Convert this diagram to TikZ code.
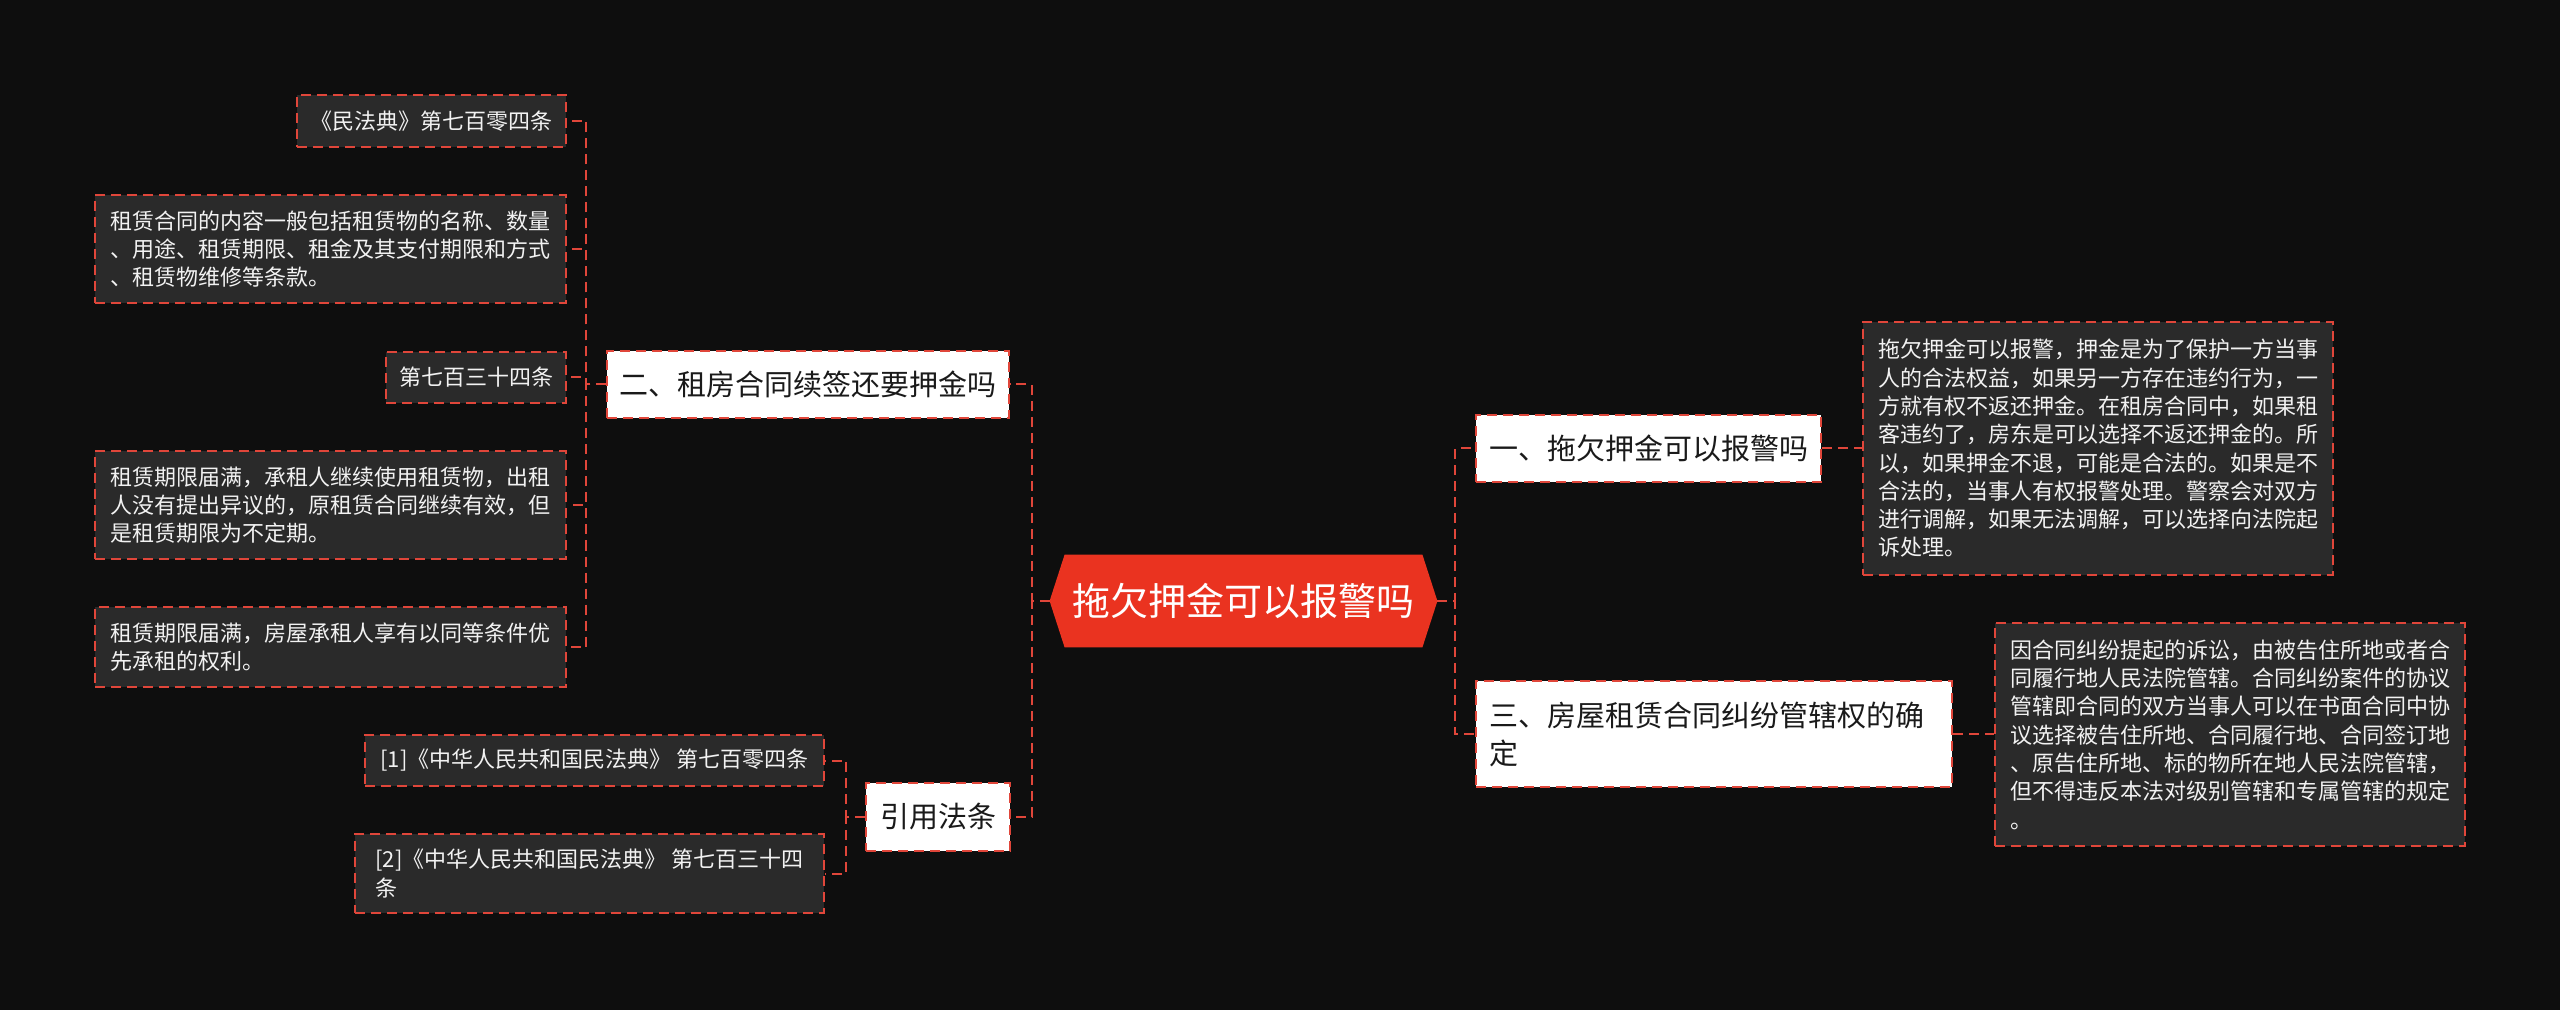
\documentclass[tikz,border=0pt]{standalone}
\usepackage{fontspec}
\setmainfont{Noto Sans CJK SC}
\definecolor{bgc}{HTML}{0E0E0E}
\definecolor{leafc}{HTML}{2A2A2A}
\definecolor{dashred}{HTML}{E0463A}
\definecolor{ctrred}{HTML}{EA3320}
\definecolor{leaftext}{HTML}{F2F2F2}
\definecolor{lvtext}{HTML}{1A1A1A}
\tikzset{
  conn/.style={draw=dashred, line width=1pt, dash pattern=on 5pt off 3pt},
  leafbox/.style={draw=dashred, fill=leafc, line width=1pt, dash pattern=on 5pt off 3pt,
    text=leaftext, font={\fontsize{11pt}{14.15pt}\selectfont}, align=left,
    inner xsep=4pt, inner ysep=2pt},
  lvbox/.style={draw=dashred, fill=white, line width=1pt, dash pattern=on 5pt off 3pt,
    text=lvtext, font={\fontsize{14.5pt}{19pt}\selectfont}, align=left,
    inner xsep=4pt, inner ysep=2pt},
}
\begin{document}
\begin{tikzpicture}[x=0.5pt, y=-0.5pt]
\fill[bgc] (0,0) rectangle (2560,1010);
\useasboundingbox (0,0) rectangle (2560,1010);

% center
\path node (ctr) [minimum width=193.5pt, minimum height=46pt, inner sep=0pt] at (1243.5,601) {};
\fill[ctrred] (ctr.west) -- ([xshift=7.5pt]ctr.north west) -- ([xshift=-7.5pt]ctr.north east)
  -- (ctr.east) -- ([xshift=-7.5pt]ctr.south east) -- ([xshift=7.5pt]ctr.south west) -- cycle;
\node (ctrtext) [text=white, font={\fontsize{19pt}{23pt}\selectfont}] at (ctr.center) {拖欠押金可以报警吗};

% level 1
\node[lvbox, minimum width=172.5pt, minimum height=33.5pt] (n1) at (1648.5,448.5) {一、拖欠押金可以报警吗};
\node[lvbox, minimum width=238pt, minimum height=53pt] (n3) at (1714,734) {三、房屋租赁合同纠纷管辖权的确\\定\hspace*{210pt}};
\node[lvbox, minimum width=201pt, minimum height=33.5pt] (n2) at (808,384.5) {二、租房合同续签还要押金吗};
\node[lvbox, minimum width=72pt, minimum height=34pt] (n4) at (938,817) {引用法条};

% leaves left
\node[leafbox, minimum width=134.5pt, minimum height=26pt] (A) at (431.5,121) {《民法典》第七百零四条};
\node[leafbox, minimum width=235.5pt, minimum height=54pt] (B) at (330.5,249) {租赁合同的内容一般包括租赁物的名称、数量\\、用途、租赁期限、租金及其支付期限和方式\\、租赁物维修等条款。};
\node[leafbox, minimum width=90pt, minimum height=25.5pt] (C) at (476,377.5) {第七百三十四条};
\node[leafbox, minimum width=235.5pt, minimum height=54pt] (D) at (330.5,505) {租赁期限届满，承租人继续使用租赁物，出租\\人没有提出异议的，原租赁合同继续有效，但\\是租赁期限为不定期。};
\node[leafbox, minimum width=235.5pt, minimum height=40pt] (E) at (330.5,647) {租赁期限届满，房屋承租人享有以同等条件优\\先承租的权利。};
\node[leafbox, minimum width=229.5pt, minimum height=25.5pt] (F) at (594.5,760.5) {[1]《中华人民共和国民法典》 第七百零四条};
\node[leafbox, minimum width=234.5pt, minimum height=39.5pt] (G) at (589.5,873.5) {[2]《中华人民共和国民法典》 第七百三十四\\条};

% leaves right
\node[leafbox, minimum width=235pt, minimum height=126.5pt] (R1) at (2098,448.5) {拖欠押金可以报警，押金是为了保护一方当事\\人的合法权益，如果另一方存在违约行为，一\\方就有权不返还押金。在租房合同中，如果租\\客违约了，房东是可以选择不返还押金的。所\\以，如果押金不退，可能是合法的。如果是不\\合法的，当事人有权报警处理。警察会对双方\\进行调解，如果无法调解，可以选择向法院起\\诉处理。};
\node[leafbox, minimum width=235pt, minimum height=111.5pt] (R3) at (2230,734.5) {因合同纠纷提起的诉讼，由被告住所地或者合\\同履行地人民法院管辖。合同纠纷案件的协议\\管辖即合同的双方当事人可以在书面合同中协\\议选择被告住所地、合同履行地、合同签订地\\、原告住所地、标的物所在地人民法院管辖，\\但不得违反本法对级别管辖和专属管辖的规定\\。};

% trunk x positions
\coordinate (Lm) at (1032,0);
\coordinate (Rm) at (1455,0);
\coordinate (L2) at (586,0);
\coordinate (L4) at (846,0);

% connectors
\draw[conn] (ctr.east) -- (ctr.east -| Rm) |- (n1.west);
\draw[conn] (ctr.east) -- (ctr.east -| Rm) |- (n3.west);
\draw[conn] (ctr.west) -- (ctr.west -| Lm) |- (n2.east);
\draw[conn] (ctr.west) -- (ctr.west -| Lm) |- (n4.east);

\draw[conn] (n1.east) -- (R1.west |- n1.east);
\draw[conn] (n3.east) -- (R3.west |- n3.east);

\draw[conn] (n2.west) -- (n2.west -| L2) |- (A.east);
\draw[conn] (n2.west) -- (n2.west -| L2) |- (B.east);
\draw[conn] (n2.west) -- (n2.west -| L2) |- (C.east);
\draw[conn] (n2.west) -- (n2.west -| L2) |- (D.east);
\draw[conn] (n2.west) -- (n2.west -| L2) |- (E.east);

\draw[conn] (n4.west) -- (n4.west -| L4) |- (F.east);
\draw[conn] (n4.west) -- (n4.west -| L4) |- (G.east);
\end{tikzpicture}
\end{document}
